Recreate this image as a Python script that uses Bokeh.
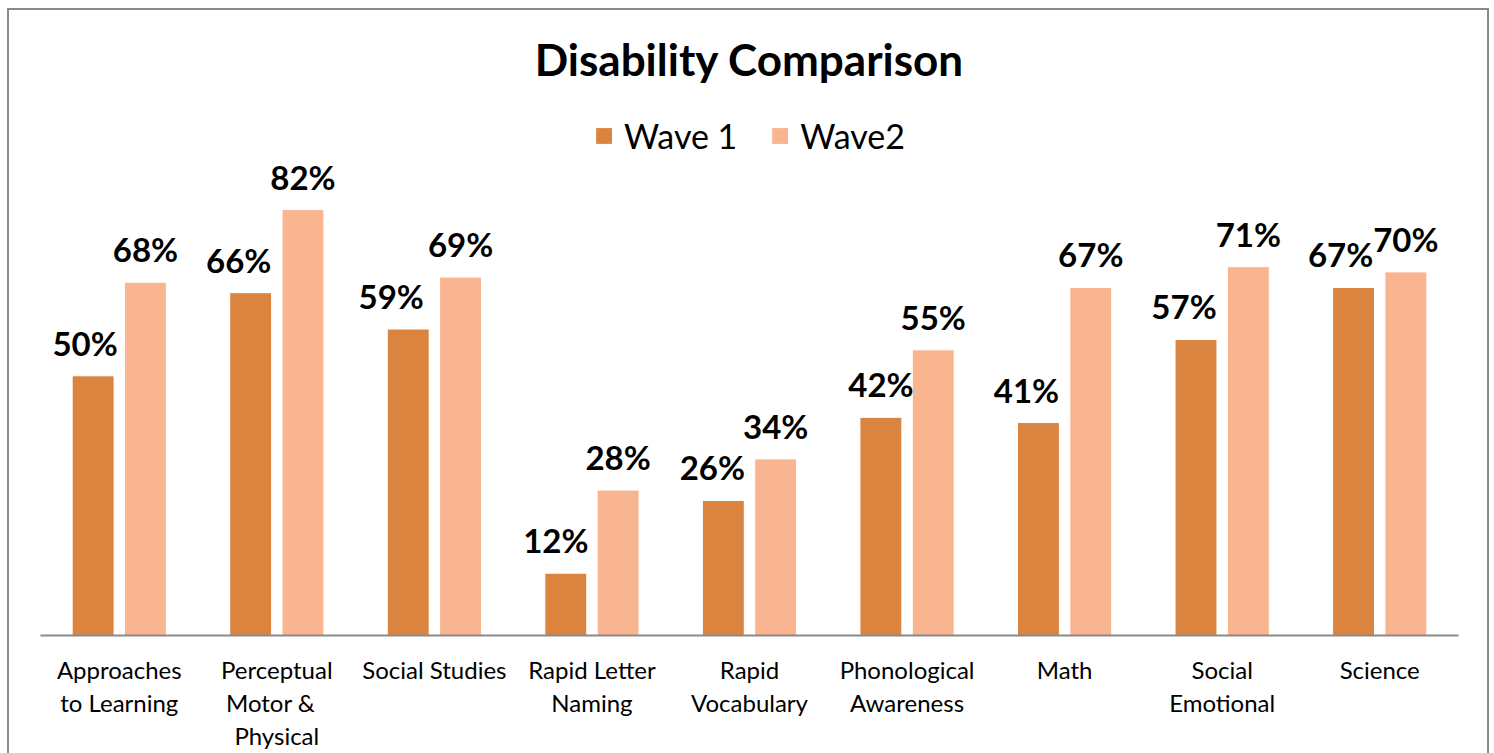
from bokeh.plotting import figure
from bokeh.models import ColumnDataSource, FactorRange, Range1d, Legend, LegendItem
from bokeh.transform import dodge
from bokeh.layouts import column
from bokeh.core.properties import value
from bokeh.embed import file_html
from bokeh.resources import INLINE

# Domains compared across the two waves
categories = [
    "Approaches\nto Learning",
    "Perceptual\nMotor   &\nPhysical",
    "Social Studies",
    "Rapid Letter\nNaming",
    "Rapid\nVocabulary",
    "Phonological\nAwareness",
    "Math",
    "Social\nEmotional",
    "Science",
]
wave1 = [0.50, 0.66, 0.59, 0.12, 0.26, 0.42, 0.41, 0.57, 0.67]
wave2 = [0.68, 0.82, 0.69, 0.28, 0.34, 0.55, 0.67, 0.71, 0.70]
series_names = ["Wave 1", "Wave2"]

# Horizontal nudges (px) for the Wave 1 value labels so they clear the Wave 2 bar
wave1_label_shift = [-8, -12, -17, -10, -11, 0, -12, -12, -13]

COLOR_W1 = "#DB8440"
COLOR_W2 = "#F8B590"
GRAY = "#8A8A8A"
FONT = "Lato"

src = ColumnDataSource(dict(
    cat=categories,
    w1=wave1,
    w2=wave2,
    w1_txt=[f"{round(v * 100)}%" for v in wave1],
    w2_txt=[f"{round(v * 100)}%" for v in wave2],
    w1_dx=wave1_label_shift,
))

p = figure(
    x_range=FactorRange(factors=categories, range_padding=0),
    y_range=Range1d(0, 1.03),
    width=1478, height=743,
    min_border_left=31, min_border_right=29,
    min_border_top=90, min_border_bottom=118,
    output_backend="svg", toolbar_location=None,
)
p.title.text = "Disability Comparison"
p.title.align = "center"
p.title.text_font = FONT
p.title.text_font_size = "44px"
p.title.text_font_style = "bold"
p.title.text_color = "black"
p.title.standoff = 31

p.outline_line_color = None
p.grid.visible = False
p.yaxis.visible = False

ax = p.xaxis[0]
ax.axis_line_color = GRAY
ax.axis_line_width = 2
ax.major_tick_line_color = None
ax.minor_tick_line_color = None
ax.major_label_text_font = FONT
ax.major_label_text_font_size = "24px"
ax.major_label_text_color = "black"
ax.major_label_text_line_height = 1.14
ax.major_label_standoff = 13

OFF = 0.166
BAR_W = 0.266

r1 = p.vbar(x=dodge("cat", -OFF, range=p.x_range), top="w1", width=BAR_W, source=src,
            fill_color=COLOR_W1, line_color="white", line_width=1)
r2 = p.vbar(x=dodge("cat", OFF, range=p.x_range), top="w2", width=BAR_W, source=src,
            fill_color=COLOR_W2, line_color="white", line_width=1)

label_kw = dict(text_font=value(FONT), text_font_size="33px", text_font_style="bold",
                text_color="black", text_align="center", text_baseline="alphabetic",
                y_offset=-33, source=src)
p.text(x=dodge("cat", -OFF, range=p.x_range), y="w1", text="w1_txt", x_offset="w1_dx", **label_kw)
p.text(x=dodge("cat", OFF, range=p.x_range), y="w2", text="w2_txt", **label_kw)

legend = Legend(
    items=[LegendItem(label=series_names[0], renderers=[r1]),
           LegendItem(label=series_names[1], renderers=[r2])],
    location="top_center", orientation="horizontal",
    glyph_width=21, glyph_height=21, label_standoff=10, spacing=32,
    padding=0, margin=15,
    label_text_font=FONT, label_text_font_size="34px", label_text_color="black",
    border_line_color=None, background_fill_alpha=0,
)
p.add_layout(legend)

root = column(p, margin=(8, 0, 0, 7),
              styles={"border-top": f"2px solid {GRAY}", "border-left": f"2px solid {GRAY}",
                      "border-right": f"2px solid {GRAY}"})

open("out.html", "w").write(file_html(root, INLINE))
